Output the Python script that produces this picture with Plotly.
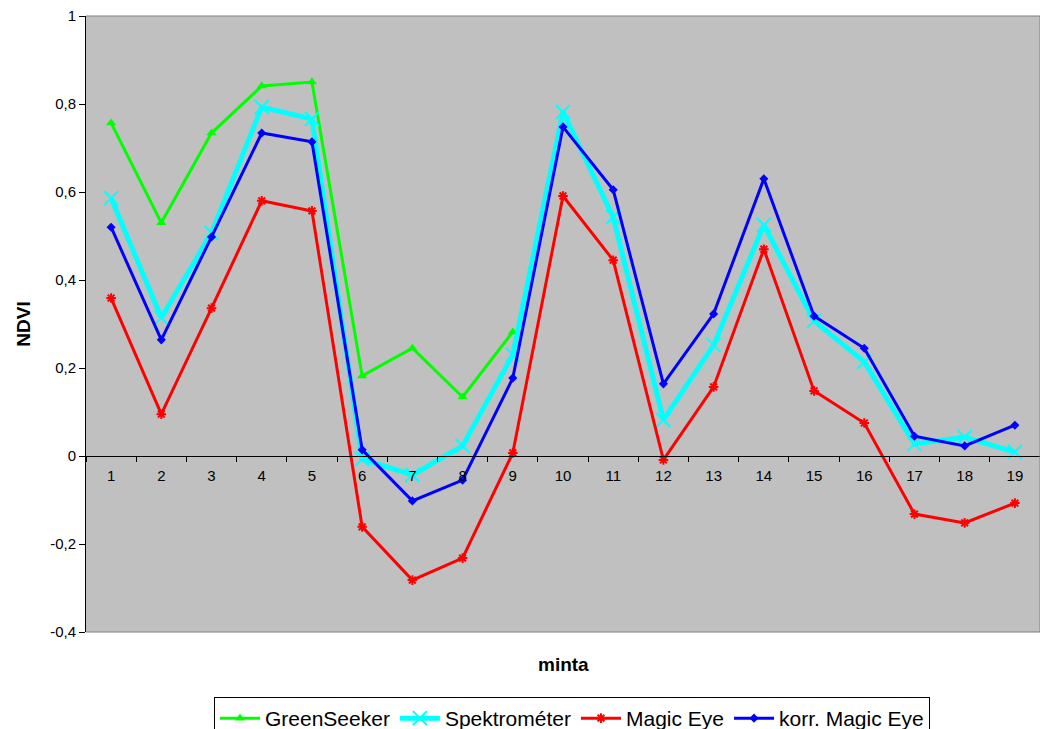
import plotly.graph_objects as go

categories = [str(i) for i in range(1, 20)]
greenseeker = [0.757, 0.53, 0.734, 0.841, 0.85, 0.182, 0.245, 0.134, 0.282] + [None] * 10
spektrometer = [0.586, 0.314, 0.507, 0.793, 0.766, -0.007, -0.043, 0.023, 0.23, 0.782,
                0.543, 0.082, 0.252, 0.525, 0.307, 0.214, 0.027, 0.043, 0.009]
magic_eye = [0.359, 0.095, 0.336, 0.58, 0.557, -0.161, -0.282, -0.232, 0.007, 0.591,
             0.445, -0.009, 0.157, 0.47, 0.148, 0.075, -0.132, -0.152, -0.107]
korr_magic_eye = [0.52, 0.264, 0.498, 0.734, 0.714, 0.014, -0.102, -0.055, 0.177, 0.748,
                  0.605, 0.164, 0.323, 0.63, 0.318, 0.245, 0.045, 0.023, 0.07]
y_ticks = [-0.4, -0.2, 0, 0.2, 0.4, 0.6, 0.8, 1]
y_ticktext = ["-0,4", "-0,2", "0", "0,2", "0,4", "0,6", "0,8", "1"]

W, H = 1040, 721  # page body has an 8px margin

fig = go.Figure()
fig.add_trace(go.Scatter(x=categories, y=greenseeker, name="GreenSeeker", mode="lines+markers",
                         line=dict(color="#00FF00", width=3),
                         marker=dict(symbol="triangle-up", size=9, color="#00FF00")))
fig.add_trace(go.Scatter(x=categories, y=spektrometer, name="Spektrométer", mode="lines+markers",
                         line=dict(color="#00FFFF", width=5),
                         marker=dict(symbol="x-thin", size=14, line=dict(color="#00FFFF", width=2))))
fig.add_trace(go.Scatter(x=categories, y=magic_eye, name="Magic Eye", mode="lines+markers",
                         line=dict(color="#FF0000", width=3),
                         marker=dict(symbol="asterisk", size=8, line=dict(color="#FF0000", width=2))))
fig.add_trace(go.Scatter(x=categories, y=korr_magic_eye, name="korr. Magic Eye", mode="lines+markers",
                         line=dict(color="#0000FF", width=3),
                         marker=dict(symbol="diamond", size=7, color="#0000FF")))

fig.update_layout(
    width=W, height=H,
    margin=dict(l=78, r=8, t=8, b=97, autoexpand=False),
    paper_bgcolor="white",
    plot_bgcolor="#C0C0C0",
    separators=", ",
    font=dict(family="Liberation Sans, Arial, sans-serif", size=15, color="black"),
    showlegend=True,
    legend=dict(orientation="h", x=(572 - 8) / W, xref="container", xanchor="center",
                y=1 - (697 - 8) / H, yref="container", yanchor="top",
                bordercolor="black", borderwidth=1, bgcolor="white",
                font=dict(size=21), tracegroupgap=0, itemwidth=40),
    xaxis=dict(type="category", range=[-0.5, 18.5], anchor="free", position=0.4 / 1.4,
               showline=True, linecolor="black", linewidth=1, ticks="outside",
               tickson="boundaries", ticklen=5, tickcolor="black", showgrid=False,
               zeroline=False, tickfont=dict(size=15), ticklabelstandoff=6, automargin=False),
    yaxis=dict(range=[-0.4, 1], tickmode="array", tickvals=y_ticks, ticktext=y_ticktext,
               showline=True, linecolor="black", linewidth=1, ticklabeloverflow="allow",
               ticks="outside", ticklen=6, tickcolor="black", showgrid=False,
               zeroline=False, mirror=False, tickfont=dict(size=15), automargin=False,
               title=dict(text="<b>NDVI</b>", font=dict(size=19), standoff=14)),
)
fig.add_annotation(text="<b>minta</b>", x=0.5, xref="paper", y=-(664 - 632) / 616, yref="paper",
                   yanchor="middle", showarrow=False, font=dict(size=19))
fig.add_shape(type="line", xref="paper", yref="paper", x0=0, x1=1, y0=1, y1=1,
              line=dict(color="#808080", width=1))
fig.add_shape(type="line", xref="paper", yref="paper", x0=1, x1=1, y0=0, y1=1,
              line=dict(color="#808080", width=1))
fig.add_shape(type="line", xref="paper", yref="paper", x0=0, x1=1, y0=0, y1=0,
              line=dict(color="#808080", width=1))

fig.write_html("out.html")
